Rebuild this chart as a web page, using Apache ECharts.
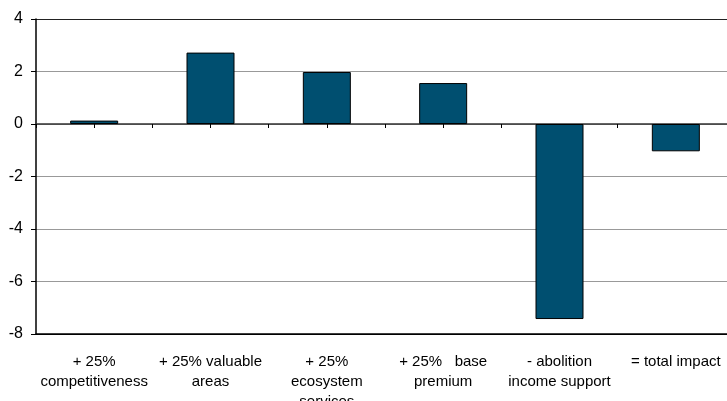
<!DOCTYPE html>
<html>
<head>
<meta charset="utf-8">
<script src="https://cdn.jsdelivr.net/npm/echarts@6/dist/echarts.min.js"></script>
<style>
  html, body { margin: 0; padding: 0; background: #fff; }
  #chart { width: 727px; height: 401px; }
</style>
</head>
<body>
<div id="chart"></div>
<script>
// Impact of each measure on the result
const categories = [
  '+ 25%\ncompetitiveness',
  '+ 25% valuable\nareas',
  '+ 25%\necosystem\nservices',
  '+ 25%   base\npremium',
  '- abolition\nincome support',
  '= total impact'
];
const impactValues = [0.13, 2.72, 1.98, 1.56, -7.43, -1.04];
const valueTicks = [-8, -6, -4, -2, 0, 2, 4];

const chart = echarts.init(document.getElementById('chart'), null, { renderer: 'canvas' });

const labelFont = "'Liberation Sans', Arial, sans-serif";

chart.setOption({
  animation: false,
  backgroundColor: '#ffffff',
  grid: { left: 36, top: 19, width: 698, height: 315, containLabel: false, outerBoundsMode: 'none' },
  xAxis: [
    {
      // labels along the bottom edge of the plot
      type: 'category',
      data: categories,
      position: 'bottom',
      axisLine: { onZero: false, lineStyle: { color: '#000', width: 1.5 } },
      axisTick: { show: false },
      splitLine: { show: false },
      axisLabel: {
        interval: 0,
        margin: 18,
        color: '#000',
        fontFamily: labelFont,
        fontSize: 15,
        lineHeight: 20
      }
    },
    {
      // baseline through zero; ticks at every half category (centres and boundaries)
      type: 'value',
      min: 0,
      max: categories.length * 2,
      interval: 1,
      position: 'top',
      axisLine: { onZero: true, lineStyle: { color: '#333', width: 1.5 } },
      axisTick: { show: true, inside: true, length: 4, lineStyle: { color: '#000' } },
      axisLabel: { show: false },
      splitLine: { show: false }
    }
  ],
  yAxis: {
    type: 'value',
    min: valueTicks[0],
    max: valueTicks[valueTicks.length - 1],
    interval: 2,
    axisLine: { show: true, lineStyle: { color: '#000', width: 1.5 } },
    axisTick: { show: true, length: 5, lineStyle: { color: '#000' } },
    axisLabel: {
      color: '#000',
      fontFamily: labelFont,
      fontSize: 16,
      margin: 13
    },
    splitLine: {
      show: true,
      lineStyle: {
        color: ['#000', '#999', '#999', '#999', '#999', '#999', '#222'],
        width: 1
      }
    }
  },
  series: [
    {
      type: 'bar',
      xAxisIndex: 0,
      data: impactValues,
      barWidth: 48,
      itemStyle: { color: '#004F70', borderColor: '#000', borderWidth: 1 }
    }
  ]
});
</script>
</body>
</html>
